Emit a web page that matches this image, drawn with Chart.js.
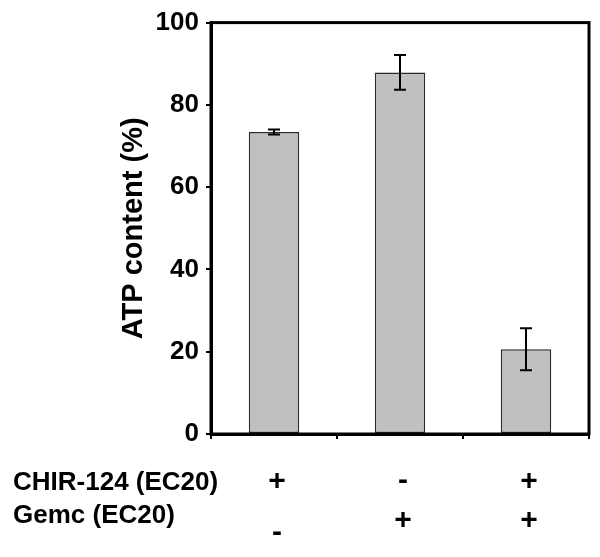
<!DOCTYPE html>
<html>
<head>
<meta charset="utf-8">
<script src="https://cdn.jsdelivr.net/npm/chart.js@4/dist/chart.umd.min.js"></script>
<style>
  html, body { margin: 0; padding: 0; background: #ffffff; }
  #wrap { width: 600px; height: 557px; }
</style>
</head>
<body>
<div id="wrap"><canvas id="c" width="600" height="557"></canvas></div>
<script>
// ---- data ----
const categories = ['CHIR+/Gemc-', 'CHIR-/Gemc+', 'CHIR+/Gemc+'];
const atpValues = [73.4, 87.9, 20.6];
const atpErrors = [0.6, 4.2, 5.1];
const yTicks = [0, 20, 40, 60, 80, 100];
const rowLabels = ['CHIR-124 (EC20)', 'Gemc (EC20)'];
const chirRow = ['+', '-', '+'];
const gemcRow = ['-', '+', '+'];
const yTitle = 'ATP content (%)';

const FONT = "'Liberation Sans', Arial, Helvetica, sans-serif";

const errorBarPlugin = {
  id: 'errorBars',
  afterDatasetsDraw(chart) {
    const { ctx, scales: { x, y } } = chart;
    ctx.save();
    ctx.strokeStyle = '#000';
    ctx.lineWidth = 2;
    atpValues.forEach((v, i) => {
      const cx = x.getPixelForValue(i);
      const yTop = y.getPixelForValue(v + atpErrors[i]);
      const yBot = y.getPixelForValue(v - atpErrors[i]);
      const hw = 6;
      ctx.beginPath();
      ctx.moveTo(cx, yTop); ctx.lineTo(cx, yBot);
      ctx.moveTo(cx - hw, yTop); ctx.lineTo(cx + hw, yTop);
      ctx.moveTo(cx - hw, yBot); ctx.lineTo(cx + hw, yBot);
      ctx.stroke();
    });
    ctx.restore();
  }
};

const framePlugin = {
  id: 'frame',
  afterDraw(chart) {
    const { ctx, chartArea: a, scales: { x } } = chart;
    ctx.save();
    ctx.strokeStyle = '#000';
    ctx.lineWidth = 3;
    ctx.strokeRect(a.left, a.top, a.right - a.left, a.bottom - a.top);

    // condition table below the axis
    ctx.fillStyle = '#000';
    ctx.textBaseline = 'middle';
    ctx.font = 'bold 26px ' + FONT;
    ctx.textAlign = 'left';
    const row1Y = a.bottom + 48;
    const row2Y = a.bottom + 87;
    ctx.fillText(rowLabels[0], 13, row1Y + 1);
    ctx.fillText(rowLabels[1], 13, row2Y - 5);
    ctx.textAlign = 'center';
    ctx.font = 'bold 30px ' + FONT;
    const rows = [[chirRow, row1Y], [gemcRow, row2Y]];
    rows.forEach(([row, ry], r) => {
      row.forEach((s, i) => {
        const cx = x.getPixelForValue(i) + 3;
        let yy = ry;
        if (s === '-' && r === 1) yy += 13;
        if (s === '-') yy -= 1;
        ctx.fillText(s, cx, yy);
      });
    });
    ctx.restore();
  }
};

new Chart(document.getElementById('c'), {
  type: 'bar',
  data: {
    labels: categories,
    datasets: [{
      data: atpValues,
      backgroundColor: '#c0c0c0',
      borderColor: '#2a2a2a',
      borderWidth: 1.5,
      borderSkipped: false,
      barPercentage: 0.4,
      categoryPercentage: 1.0
    }]
  },
  options: {
    responsive: false,
    animation: false,
    layout: { padding: { left: 0, right: 11, top: 22, bottom: 0 } },
    plugins: { legend: { display: false }, tooltip: { enabled: false } },
    scales: {
      x: {
        grid: { offset: true, drawOnChartArea: false, drawTicks: true, tickLength: 5, color: '#000', lineWidth: 2 },
        border: { display: true, color: '#000', width: 3 },
        ticks: { display: false },
        afterFit(scale) { scale.height = 123; }
      },
      y: {
        min: 0, max: 100,
        afterBuildTicks(scale) { scale.ticks = yTicks.map(v => ({ value: v })); },
        grid: { drawOnChartArea: false, drawTicks: true, tickLength: 5, color: '#000', lineWidth: 2 },
        border: { display: true, color: '#000', width: 3 },
        ticks: { color: '#000', padding: 7, font: { family: FONT, size: 26, weight: 'bold' } },
        title: {
          display: true, text: yTitle, color: '#000',
          font: { family: FONT, size: 29, weight: 'bold' },
          padding: { top: 117, bottom: 0 }
        },
        afterFit(scale) { scale.width = 211; }
      }
    }
  },
  plugins: [errorBarPlugin, framePlugin]
});
</script>
</body>
</html>
